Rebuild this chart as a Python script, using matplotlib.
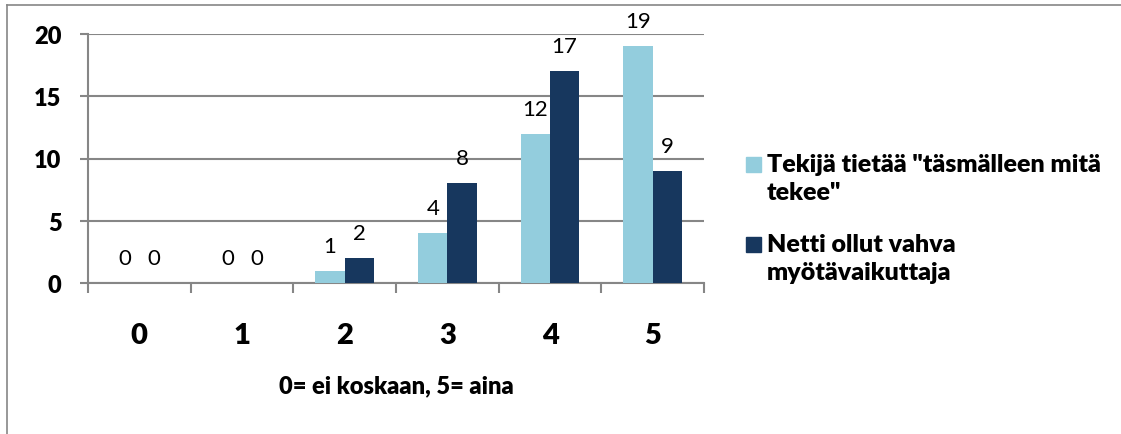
import matplotlib
matplotlib.use("Agg")
import matplotlib.pyplot as plt
from matplotlib.patches import Rectangle
from matplotlib.lines import Line2D
import numpy as np

categories = ["0", "1", "2", "3", "4", "5"]
series_names = ['Tekijä tietää "täsmälleen mitä\ntekee"', "Netti ollut vahva\nmyötävaikuttaja"]
tekija = [0, 0, 1, 4, 12, 19]
netti = [0, 0, 2, 8, 17, 9]
colors = ["#93CDDD", "#17375E"]
xlabel = "0= ei koskaan, 5= aina"
yticks = [0, 5, 10, 15, 20]

plt.rcParams['font.family'] = ['Lato', 'DejaVu Sans']
W, H = 1121, 435
fig = plt.figure(figsize=(W/100, H/100), dpi=100)
ax = fig.add_axes([88/W, 1-284/H, (704-88)/W, (284-35)/H])

BW = "heavy"
gray = "#868686"
x = np.arange(len(categories))
bw = 0.285
for vals, off, c in [(tekija, -bw/2, colors[0]), (netti, bw/2, colors[1])]:
    bars = ax.bar(x + off, vals, bw, color=c, zorder=3)
    for b, v in zip(bars, vals):
        ax.annotate(str(v), (b.get_x() + b.get_width()/2, v), xytext=(0, 15),
                    textcoords="offset pixels", ha="center", va="bottom",
                    fontsize=16, color="black")

ax.set_xlim(-0.5, len(categories) - 0.5)
ax.set_ylim(0, 20)
ax.set_yticks(yticks)
ax.set_yticklabels([str(t) for t in yticks], fontsize=17, fontweight=BW)
ax.yaxis.grid(True, color=gray, linewidth=1.5, zorder=0)
ax.set_xticks(x)
ax.set_xticklabels(categories, fontsize=21, fontweight=BW)
ax.set_xticks(np.arange(-0.5, len(categories)), minor=True)
ax.tick_params(axis="x", which="major", length=0, pad=28)
ax.tick_params(axis="x", which="minor", length=7, width=1.5, color=gray)
ax.tick_params(axis="y", length=6, width=1.5, color=gray, pad=13)
for s in ["top", "right"]:
    ax.spines[s].set_visible(False)
for s in ["left", "bottom"]:
    ax.spines[s].set_color(gray)
    ax.spines[s].set_linewidth(1.5)

fig.text(396/W, 1-386/H, xlabel, ha="center", va="center", fontsize=17, fontweight=BW)

# legend
for i, (name, c) in enumerate(zip(series_names, colors)):
    y0 = [158, 238][i]
    fig.patches.append(Rectangle((746/W, 1-(y0+15)/H), 15/W, 15/H, color=c, transform=fig.transFigure))
    fig.text(767/W, 1-(y0-4)/H, name, ha="left", va="top", fontsize=18, fontweight=BW,
             linespacing=1.32)

# outer border
fig.add_artist(Line2D([7/W, 1], [1-6/H, 1-6/H], color=gray, lw=1.2, transform=fig.transFigure))
fig.add_artist(Line2D([7/W, 7/W], [0, 1-6/H], color=gray, lw=1.2, transform=fig.transFigure))

fig.savefig("out.png", dpi=100)
